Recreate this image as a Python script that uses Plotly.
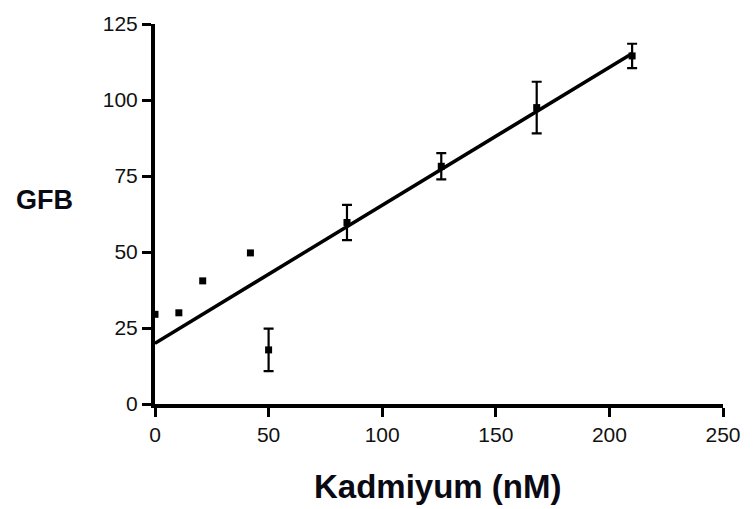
import plotly.graph_objects as go

# Data
# points without visible error bars
x_plain = [0, 10.5, 21, 42]
y_plain = [29.5, 30, 40.5, 49.7]
# points with error bars
x_err = [50, 84.5, 126, 168, 210]
y_err = [17.8, 59.7, 78.2, 97.5, 114.5]
err_vals = [7, 5.8, 4.3, 8.5, 4]

fit_x = [0, 210]
fit_y = [20, 115.3]

x_ticks = [0, 50, 100, 150, 200, 250]
y_ticks = [0, 25, 50, 75, 100, 125]

x_title = "Kadmiyum (nM)"
y_title = "GFB"

L, R, T, B = 155, 23, 22, 105
W, H = 753, 509

fig = go.Figure()
fig.add_trace(go.Scatter(
    x=fit_x, y=fit_y, mode="lines",
    line=dict(color="black", width=3.5),
    showlegend=False, cliponaxis=False,
))
fig.add_trace(go.Scatter(
    x=x_plain, y=y_plain, mode="markers",
    marker=dict(symbol="square", size=7, color="black"),
    showlegend=False, cliponaxis=False,
))
fig.add_trace(go.Scatter(
    x=x_err, y=y_err, mode="markers",
    marker=dict(symbol="square", size=7, color="black"),
    error_y=dict(type="data", array=err_vals, visible=True,
                 color="black", thickness=2.2, width=5),
    showlegend=False, cliponaxis=False,
))

axis_font = dict(family="Liberation Sans, Arial, sans-serif", size=21, color="#111")
common = dict(showgrid=False, zeroline=False, showline=True, linecolor="black",
              linewidth=4, ticks="outside", ticklen=9, tickwidth=3,
              tickcolor="black", tickfont=axis_font)

pw = W - L - R
ph = H - T - B


def px2paper(px, py):
    return (px - L) / pw, (H - B - py) / ph


gx, gy = px2paper(43, 199)
tx, ty = px2paper(441, 487)

fig.update_layout(
    width=W, height=H,
    margin=dict(l=L, r=R, t=T, b=B),
    plot_bgcolor="white", paper_bgcolor="white",
    xaxis=dict(range=[0, 250], tickvals=x_ticks, **common),
    yaxis=dict(range=[0, 125], tickvals=y_ticks, **common),
    annotations=[
        dict(text="<b>" + y_title + "</b>", x=gx, y=gy, xref="paper", yref="paper",
             showarrow=False, xanchor="center", yanchor="middle",
             font=dict(family="Liberation Sans, Arial, sans-serif", size=27, color="#0a0a14")),
        dict(text="<b>" + x_title + "</b>", x=tx, y=ty, xref="paper", yref="paper",
             showarrow=False, xanchor="center", yanchor="middle",
             font=dict(family="Liberation Sans, Arial, sans-serif", size=33, color="#0a0a14")),
    ],
)

fig.write_html("out.html")
